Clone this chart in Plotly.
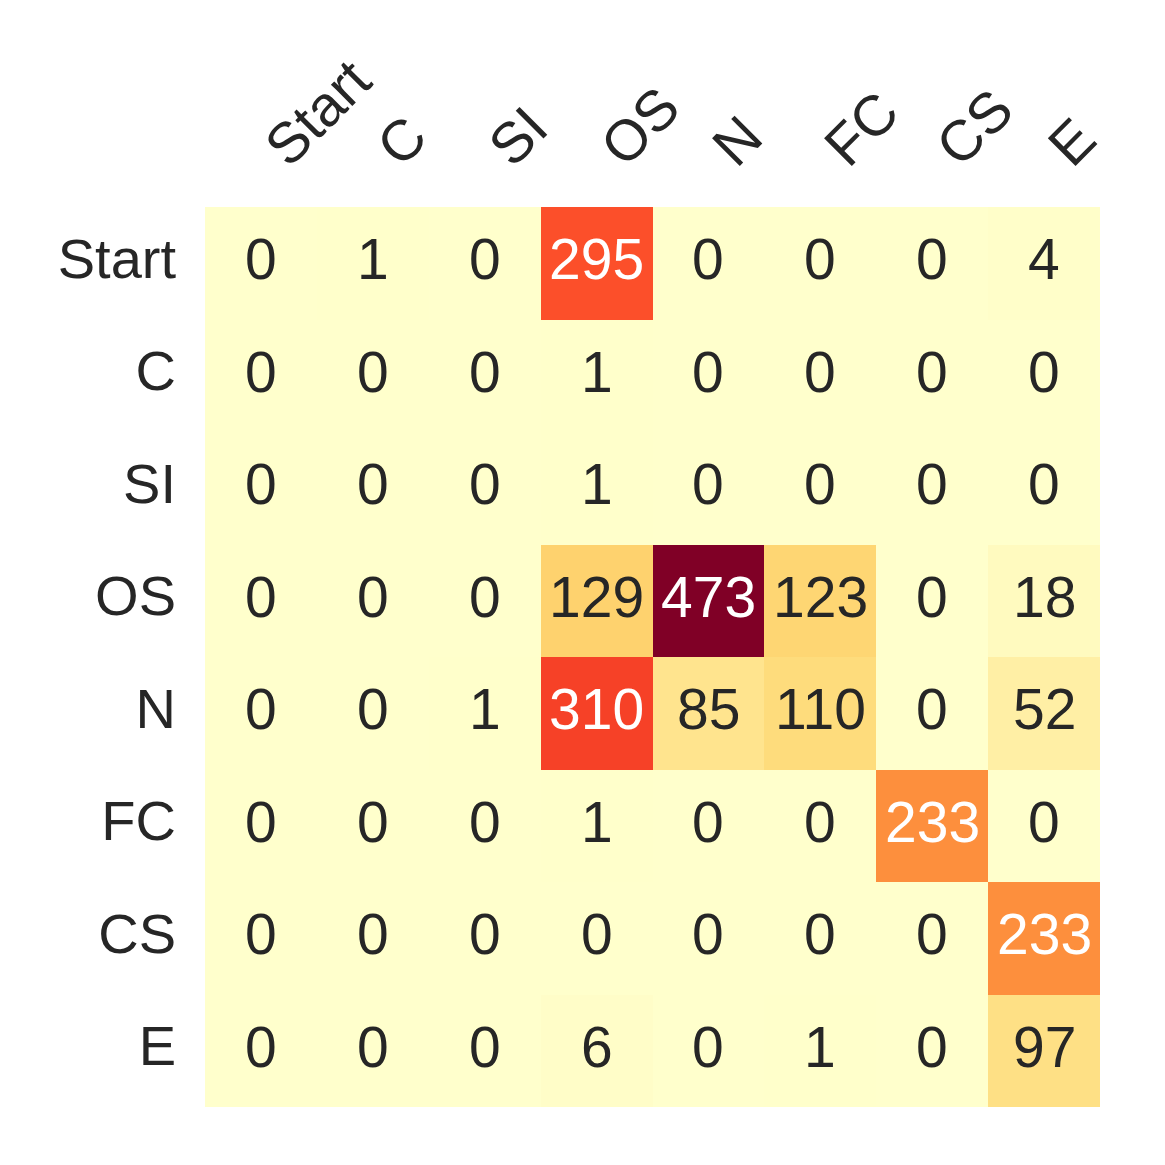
import plotly.graph_objects as go
import plotly.express as px

labels = ["Start", "C", "SI", "OS", "N", "FC", "CS", "E"]

row_start = [0, 1, 0, 295, 0, 0, 0, 4]
row_c = [0, 0, 0, 1, 0, 0, 0, 0]
row_si = [0, 0, 0, 1, 0, 0, 0, 0]
row_os = [0, 0, 0, 129, 473, 123, 0, 18]
row_n = [0, 0, 1, 310, 85, 110, 0, 52]
row_fc = [0, 0, 0, 1, 0, 0, 233, 0]
row_cs = [0, 0, 0, 0, 0, 0, 0, 233]
row_e = [0, 0, 0, 6, 0, 1, 0, 97]

z = [row_start, row_c, row_si, row_os, row_n, row_fc, row_cs, row_e]
zmax = max(max(r) for r in z)

fig = go.Figure(go.Heatmap(
    z=z, x=labels, y=labels,
    colorscale=px.colors.sequential.YlOrRd,
    zmin=0, zmax=zmax,
    showscale=False,
    hoverinfo="skip",
))

# cell labels, white on the darker cells
for i, r in enumerate(z):
    for j, v in enumerate(r):
        fig.add_annotation(
            x=labels[j], y=labels[i], text=str(v), showarrow=False, yshift=4,
            font=dict(size=57, color="white" if v > zmax * 0.45 else "#262626",
                      family="Liberation Sans, Arial"),
        )

fig.update_xaxes(side="top", tickangle=-45, showgrid=False, zeroline=False,
                 ticks="", ticklabelstandoff=17, ticklabelshift=8, automargin=False,
                 tickfont=dict(size=57, color="#262626"))
fig.update_yaxes(autorange="reversed", showgrid=False, zeroline=False,
                 ticks="", ticklabelstandoff=28, ticklabelshift=5, automargin=False,
                 tickfont=dict(size=56, color="#262626"))

fig.update_layout(
    width=1165, height=1165,
    margin=dict(l=197, r=73, t=199, b=66),
    plot_bgcolor="white", paper_bgcolor="white",
    font=dict(family="Liberation Sans, Arial"),
)

fig.write_html("out.html")
